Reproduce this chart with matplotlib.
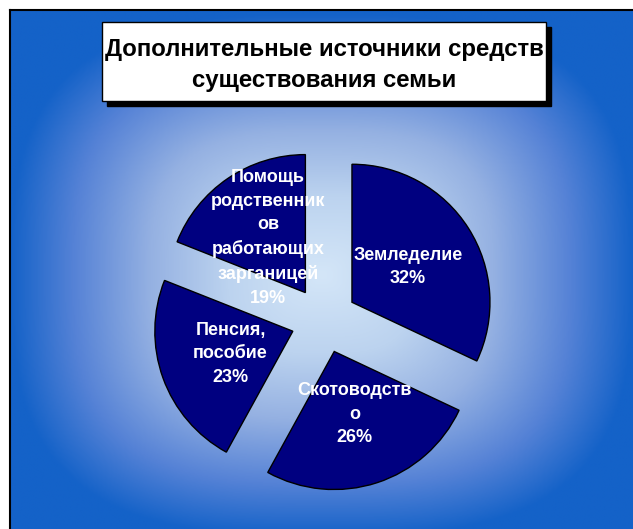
import numpy as np
import matplotlib
matplotlib.use("Agg")
import matplotlib.pyplot as plt
from matplotlib.colors import LinearSegmentedColormap
from matplotlib.patches import Rectangle

# ---- data ----
title = "Дополнительные источники средств\nсуществования семьи"
categories = ["Земледелие", "Скотоводств\nо", "Пенсия,\nпособие",
              "Помощь\nродственник\nов\nработающих\nзарганицей"]
shares = [32, 26, 23, 19]

W, H = 633, 529
fig = plt.figure(figsize=(W / 100, H / 100), dpi=100)
fig.patch.set_facecolor("white")

# ---- gradient background panel ----
bx0, by0 = 10, 10  # panel top-left in pixels
bg = fig.add_axes([bx0 / W, 0, (W - bx0) / W, (H - by0) / H])
nx, ny = 420, 350
xs = np.linspace(bx0, W, nx)
ys = np.linspace(by0, H, ny)
X, Y = np.meshgrid(xs, ys)
cx, cy = 322, 275
hw, hh = 312, 262
p = 3.0
t = ((np.abs(X - cx) / hw) ** p + (np.abs(Y - cy) / hh) ** p) ** (1 / p)
t = np.clip(t, 0, 1)
cmap = LinearSegmentedColormap.from_list(
    "bgc", [(0.0, "#d4e6f8"), (0.3, "#bcd3ef"), (0.55, "#95b1e2"),
            (0.8, "#5582d6"), (1.0, "#1462c8")])
bg.imshow(t, cmap=cmap, vmin=0, vmax=1, aspect="auto",
          extent=(0, 1, 0, 1), origin="upper", interpolation="bilinear")
bg.set_xlim(0, 1)
bg.set_ylim(0, 1)
bg.set_xticks([])
bg.set_yticks([])
for s in ("right", "bottom"):
    bg.spines[s].set_visible(False)
for s in ("left", "top"):
    bg.spines[s].set_color("black")
    bg.spines[s].set_linewidth(1.5)

# ---- pie ----
pcx, pcy, R = 324, 320, 138.0
ax = fig.add_axes([0, 0, 1, 1])
ax.patch.set_alpha(0)
wedges, texts = ax.pie(shares, startangle=90, counterclock=False,
                       explode=[0.24] * len(shares), radius=1.0,
                       colors=["#000080"] * len(shares),
                       wedgeprops=dict(edgecolor="black", linewidth=1.0))
for w, lab, v in zip(wedges, categories, shares):
    th = np.deg2rad((w.theta1 + w.theta2) / 2)
    xc, yc = w.center
    dist = 0.48 * w.r
    ax.text(xc + dist * np.cos(th), yc + dist * np.sin(th), f"{lab}\n{v}%",
            ha="center", va="center", color="white", fontsize=13,
            fontweight="bold", family="Liberation Sans", linespacing=1.5)
ax.set_aspect("auto")
ax.set_xlim(-pcx / R, (W - pcx) / R)
ax.set_ylim(-(H - pcy) / R, pcy / R)
ax.axis("off")

# ---- title box with shadow ----
tx0, ty0, tx1, ty1 = 102, 22, 546, 101
sh = 5
fig.patches.append(Rectangle(((tx0 + sh) / W, 1 - (ty1 + sh) / H),
                             (tx1 - tx0) / W, (ty1 - ty0) / H,
                             transform=fig.transFigure, facecolor="black",
                             edgecolor="black", zorder=5))
fig.patches.append(Rectangle((tx0 / W, 1 - ty1 / H),
                             (tx1 - tx0) / W, (ty1 - ty0) / H,
                             transform=fig.transFigure, facecolor="white",
                             edgecolor="black", linewidth=1.0, zorder=6))
fig.text((tx0 + tx1) / 2 / W, 1 - (ty0 + ty1) / 2 / H - 0.006, title,
         ha="center", va="center", fontsize=17.3, fontweight="bold",
         family="Liberation Sans", linespacing=1.45, zorder=7)

fig.savefig("out.png", dpi=100)
